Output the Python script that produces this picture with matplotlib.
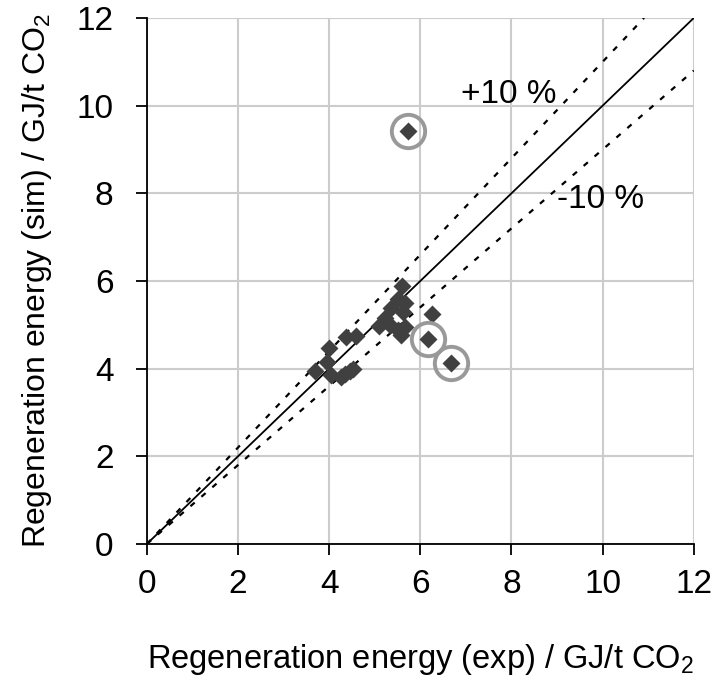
import numpy as np
import matplotlib
matplotlib.use("Agg")
import matplotlib.pyplot as plt

plt.rcParams['font.family'] = ['Liberation Sans', 'DejaVu Sans']
plt.rcParams['mathtext.fontset'] = 'custom'
plt.rcParams['mathtext.rm'] = 'Liberation Sans'
plt.rcParams['mathtext.it'] = 'Liberation Sans'

# regeneration energy, experiment vs simulation (GJ/t CO2)
e_exp = [3.68, 3.95, 4.00, 4.05, 4.25, 4.35, 4.45, 4.52, 4.38, 4.60,
         5.10, 5.33, 5.22, 5.36, 5.51, 5.66, 5.62, 5.60, 5.51, 5.58,
         5.66, 6.25, 6.17, 6.68, 5.72]
e_sim = [3.95, 4.15, 4.48, 3.85, 3.82, 3.88, 3.95, 4.00, 4.72, 4.75,
         4.97, 5.00, 5.15, 5.38, 5.60, 5.50, 5.30, 5.88, 4.88, 4.77,
         4.95, 5.25, 4.68, 4.12, 9.42]
# points flagged as outliers
out_exp = [5.72, 6.17, 6.68]
out_sim = [9.42, 4.68, 4.12]

ticks = [0, 2, 4, 6, 8, 10, 12]

fig = plt.figure(figsize=(7.16, 6.91), dpi=100)
ax = fig.add_axes([0.205, 0.2127, 0.764, 0.7613])

x = np.array([0, 12])
ax.plot(x, x, color='black', lw=1.3, zorder=2)
ax.plot([0, 12 / 1.1], [0, 12], color='black', lw=1.6, ls=(0, (2.5, 4)), zorder=2)
ax.plot(x, 0.9 * x, color='black', lw=1.6, ls=(0, (2.5, 4)), zorder=2)

ax.plot(e_exp, e_sim, 'D', color='#404040', ms=9.5, mec='none', zorder=3)
ax.plot(out_exp, out_sim, 'o', mfc='none', mec='#999999', mew=2.8, ms=24, zorder=4)

ax.text(6.9, 10.25, '+10 %', fontsize=24, ha='left', va='center')
ax.text(9.0, 7.85, '-10 %', fontsize=24, ha='left', va='center')

ax.set_xlim(0, 12)
ax.set_ylim(0, 12)
ax.set_xticks(ticks)
ax.set_yticks(ticks)
ax.grid(True, color='#cccccc', lw=1.5, zorder=0)
ax.set_axisbelow(True)
for s in ['top', 'right']:
    ax.spines[s].set_visible(False)
for s in ['left', 'bottom']:
    ax.spines[s].set_linewidth(1.3)
ax.tick_params(direction='out', length=8, width=1.3, labelsize=24)
ax.tick_params(axis='x', pad=10)
ax.tick_params(axis='y', pad=16)

ax.set_xlabel('Regeneration energy (exp) / GJ/t CO$_2$', fontsize=23.5, labelpad=30)
ax.set_ylabel('Regeneration energy (sim) / GJ/t CO$_2$', fontsize=23, labelpad=16)

fig.savefig('out.png', dpi=100)
